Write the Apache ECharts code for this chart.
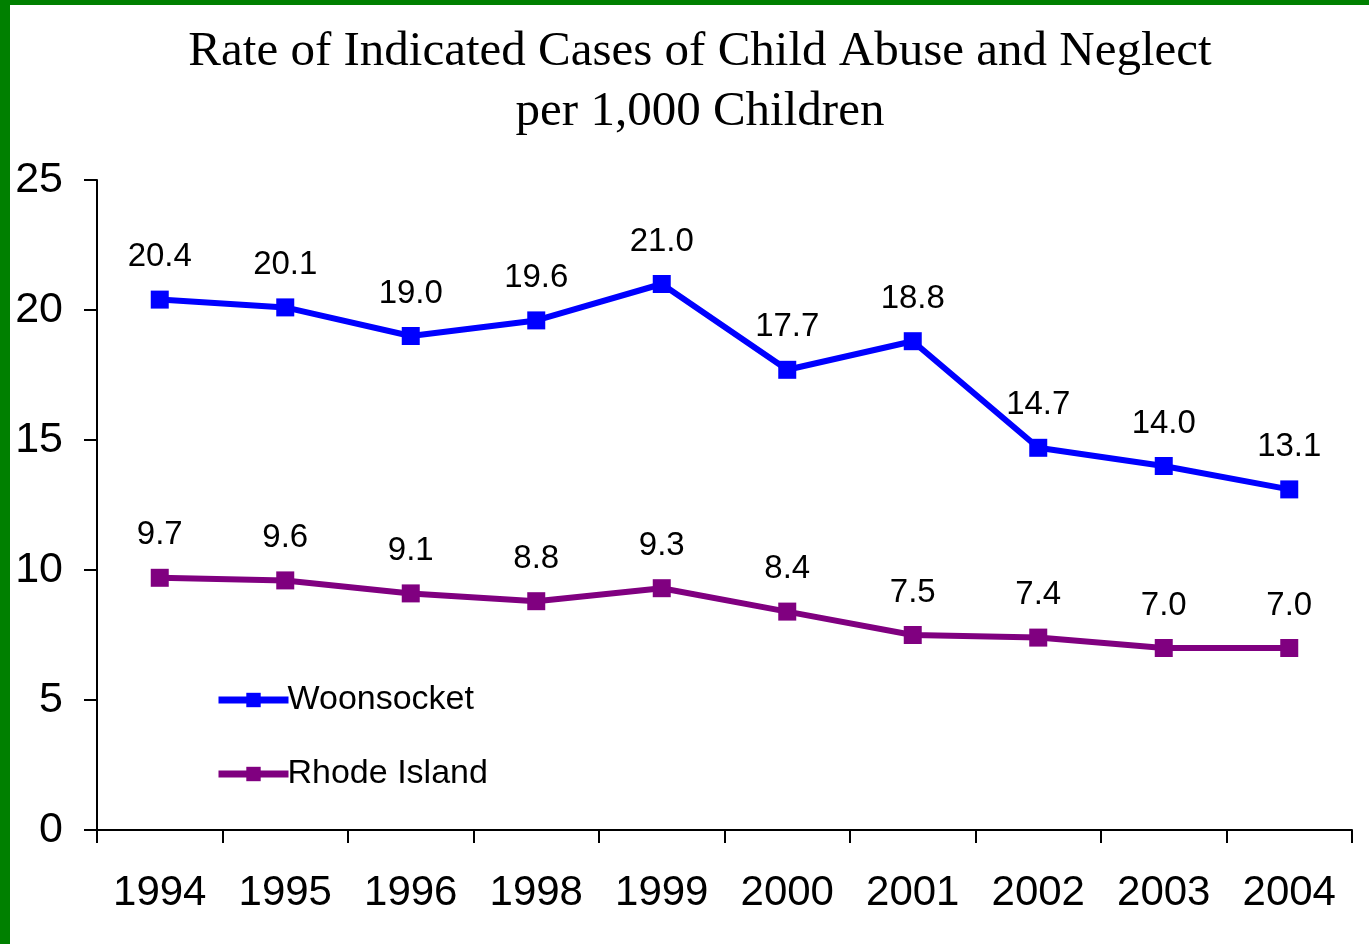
<!DOCTYPE html>
<html>
<head>
<meta charset="utf-8">
<script src="https://cdn.jsdelivr.net/npm/echarts@6/dist/echarts.min.js"></script>
<style>
  html, body { margin: 0; padding: 0; background: #fff; }
  #frame {
    width: 1369px; height: 944px; box-sizing: border-box;
    border-left: 10px solid #008000; border-top: 5px solid #008000;
    position: relative;
  }
  #chart { position: absolute; left: -10px; top: -5px; width: 1369px; height: 944px; }
</style>
</head>
<body>
<div id="frame"><div id="chart"></div></div>
<script>
const years = ['1994', '1995', '1996', '1998', '1999', '2000', '2001', '2002', '2003', '2004']
const woonsocket = [20.4, 20.1, 19.0, 19.6, 21.0, 17.7, 18.8, 14.7, 14.0, 13.1]
const rhodeIsland = [9.7, 9.6, 9.1, 8.8, 9.3, 8.4, 7.5, 7.4, 7.0, 7.0]

const chart = echarts.init(document.getElementById('chart'))

const sans = 'Liberation Sans, Arial, sans-serif'

const labelStyle = {
  show: true,
  position: 'top',
  distance: 17,
  fontFamily: sans,
  fontSize: 33,
  color: '#000',
  formatter: p => p.value.toFixed(1)
}

const makeSeries = (name, data, color) => ({
  name: name,
  type: 'line',
  data: data,
  symbol: 'rect',
  symbolSize: 18,
  lineStyle: { color: color, width: 6 },
  itemStyle: { color: color },
  label: labelStyle,
  animation: false
})

chart.setOption({
  title: {
    text: 'Rate of Indicated Cases of Child Abuse and Neglect\nper 1,000 Children',
    left: 695,
    top: 17,
    textAlign: 'center',
    textStyle: {
      fontFamily: 'Liberation Serif, DejaVu Serif, serif',
      fontWeight: 'normal',
      fontSize: 49,
      lineHeight: 60,
      color: '#000'
    }
  },
  legend: {
    orient: 'vertical',
    left: 210,
    top: 678,
    itemWidth: 70,
    itemHeight: 18,
    itemGap: 40,
    lineStyle: { width: 7 },
    textStyle: {
      fontFamily: sans,
      fontSize: 34,
      color: '#000',
      padding: [0, 0, 0, -6]
    },
    data: ['Woonsocket', 'Rhode Island']
  },
  grid: { left: 97, right: 17, top: 180, bottom: 114, containLabel: false },
  xAxis: {
    type: 'category',
    data: years,
    boundaryGap: true,
    axisLine: { lineStyle: { color: '#000', width: 2 } },
    axisTick: { show: true, length: 13, lineStyle: { color: '#000', width: 2 } },
    axisLabel: {
      color: '#000',
      fontFamily: sans,
      fontSize: 42,
      margin: 42
    }
  },
  yAxis: {
    type: 'value',
    min: 0,
    max: 25,
    interval: 5,
    splitLine: { show: false },
    axisLine: { show: true, lineStyle: { color: '#000', width: 2 } },
    axisTick: { show: true, length: 13, lineStyle: { color: '#000', width: 2 } },
    axisLabel: {
      color: '#000',
      fontFamily: sans,
      fontSize: 43,
      margin: 34
    }
  },
  series: [
    makeSeries('Woonsocket', woonsocket, '#0000ff'),
    makeSeries('Rhode Island', rhodeIsland, '#800080')
  ]
})
</script>
</body>
</html>
